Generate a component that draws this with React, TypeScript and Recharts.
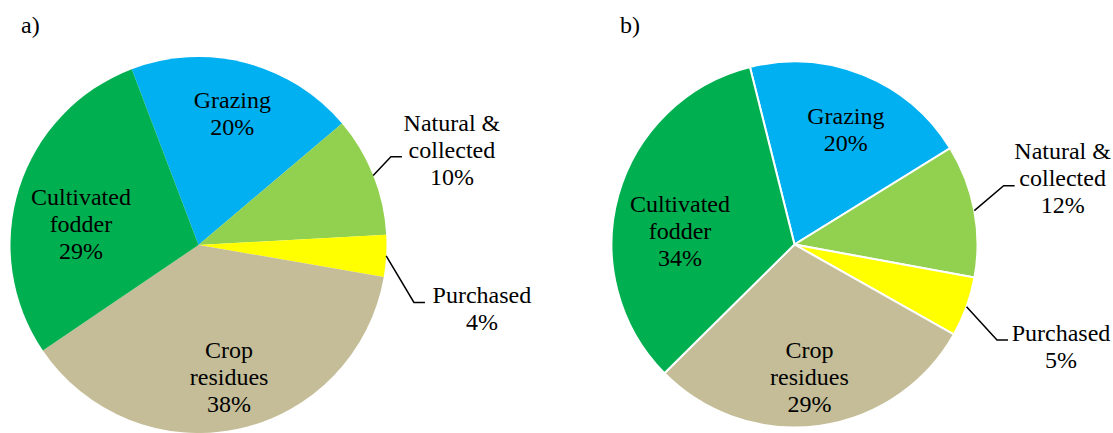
import React from 'react';
import { PieChart, Pie, Cell } from 'recharts';

// feed source shares (%) for the two panels, slices in clockwise order from the top
const CATEGORIES = ['Grazing', 'Natural &\ncollected', 'Purchased', 'Crop\nresidues', 'Cultivated\nfodder'];
const SHARE_A = [19.6, 10.3, 3.6, 37.8, 28.7];
const SHARE_B = [20.1, 11.7, 5.3, 29.4, 33.5];
const PANEL_TITLES = ['a)', 'b)'];

const COLORS = ['#00B0F0', '#92D050', '#FFFF00', '#C4BD97', '#00B050'];

const FONT = "'Liberation Serif', 'Times New Roman', serif";
const FONT_SIZE = 24;
const LINE_H = 27;
const RAD = Math.PI / 180;

type Place = { r: number; da: number; leader?: { hx: number; ly: number } };

// label placement relative to each slice (radius factor, angle nudge in degrees)
const PLACE_A: Place[] = [
  { r: 0.72, da: 0 },
  { r: 1.44, da: 1.1, leader: { hx: -50, ly: 7 } },
  { r: 1.545, da: 9.3, leader: { hx: -57, ly: -6 } },
  { r: 0.72, da: -0.9 },
  { r: 0.635, da: -7.5 },
];
const PLACE_B: Place[] = [
  { r: 0.69, da: 1.9 },
  { r: 1.51, da: -3.3, leader: { hx: -48, ly: 8 } },
  { r: 1.56, da: 1.1, leader: { hx: -53, ly: -7 } },
  { r: 0.73, da: 1.2 },
  { r: 0.63, da: -8.8 },
];

const toRows = (values: number[]) => CATEGORIES.map((name, i) => ({ name, value: values[i] }));

const makeLabel = (places: Place[]) => (props: any) => {
  const { cx, cy, midAngle, outerRadius, index, name, value } = props;
  const p = places[index];
  const theta = (90 - midAngle + p.da) * RAD;
  const x = cx + p.r * outerRadius * Math.sin(theta);
  const y = cy - p.r * outerRadius * Math.cos(theta);
  const lines = [...String(name).split('\n'), `${Math.round(value)}%`];
  const n = lines.length;

  let leader = null;
  if (p.leader) {
    const m = (90 - midAngle) * RAD;
    const sx = cx + outerRadius * Math.sin(m);
    const sy = cy - outerRadius * Math.cos(m);
    const ex = x + p.leader.hx;
    const ey = y + p.leader.ly;
    leader = (
      <polyline
        points={`${sx},${sy} ${ex - 11},${ey} ${ex},${ey}`}
        fill="none"
        stroke="#000"
        strokeWidth={1.5}
      />
    );
  }

  return (
    <g key={`lbl-${index}`}>
      {leader}
      <text
        textAnchor="middle"
        fill="#000"
        style={{ fontFamily: FONT, fontSize: FONT_SIZE }}
      >
        {lines.map((t, i) => (
          <tspan key={i} x={x} y={y + (i - (n - 1) / 2) * LINE_H + 8}>
            {t}
          </tspan>
        ))}
      </text>
    </g>
  );
};

const titleStyle: React.CSSProperties = {
  position: 'absolute',
  top: 13,
  fontFamily: FONT,
  fontSize: FONT_SIZE,
  lineHeight: 1,
  color: '#000',
};

export default function App() {
  const rowsA = toRows(SHARE_A);
  const rowsB = toRows(SHARE_B);
  return (
    <div
      style={{
        position: 'absolute',
        left: 0,
        top: 0,
        width: 1113,
        height: 433,
        background: '#fff',
        fontFamily: FONT,
      }}
    >
      <PieChart width={1113} height={433} margin={{ top: 0, right: 0, bottom: 0, left: 0 }}>
        <Pie
          data={rowsA}
          dataKey="value"
          nameKey="name"
          cx={198.5}
          cy={245}
          outerRadius={188}
          startAngle={110.8}
          endAngle={110.8 - 360}
          stroke="none"
          label={makeLabel(PLACE_A)}
          labelLine={false}
          isAnimationActive={false}
        >
          {rowsA.map((_, i) => (
            <Cell key={`a-${i}`} fill={COLORS[i]} />
          ))}
        </Pie>
        <Pie
          data={rowsB}
          dataKey="value"
          nameKey="name"
          cx={794.5}
          cy={244.5}
          outerRadius={183}
          startAngle={104.1}
          endAngle={104.1 - 360}
          stroke="#fff"
          strokeWidth={2}
          label={makeLabel(PLACE_B)}
          labelLine={false}
          isAnimationActive={false}
        >
          {rowsB.map((_, i) => (
            <Cell key={`b-${i}`} fill={COLORS[i]} />
          ))}
        </Pie>
      </PieChart>
      <span style={{ ...titleStyle, left: 21 }}>{PANEL_TITLES[0]}</span>
      <span style={{ ...titleStyle, left: 620 }}>{PANEL_TITLES[1]}</span>
    </div>
  );
}
